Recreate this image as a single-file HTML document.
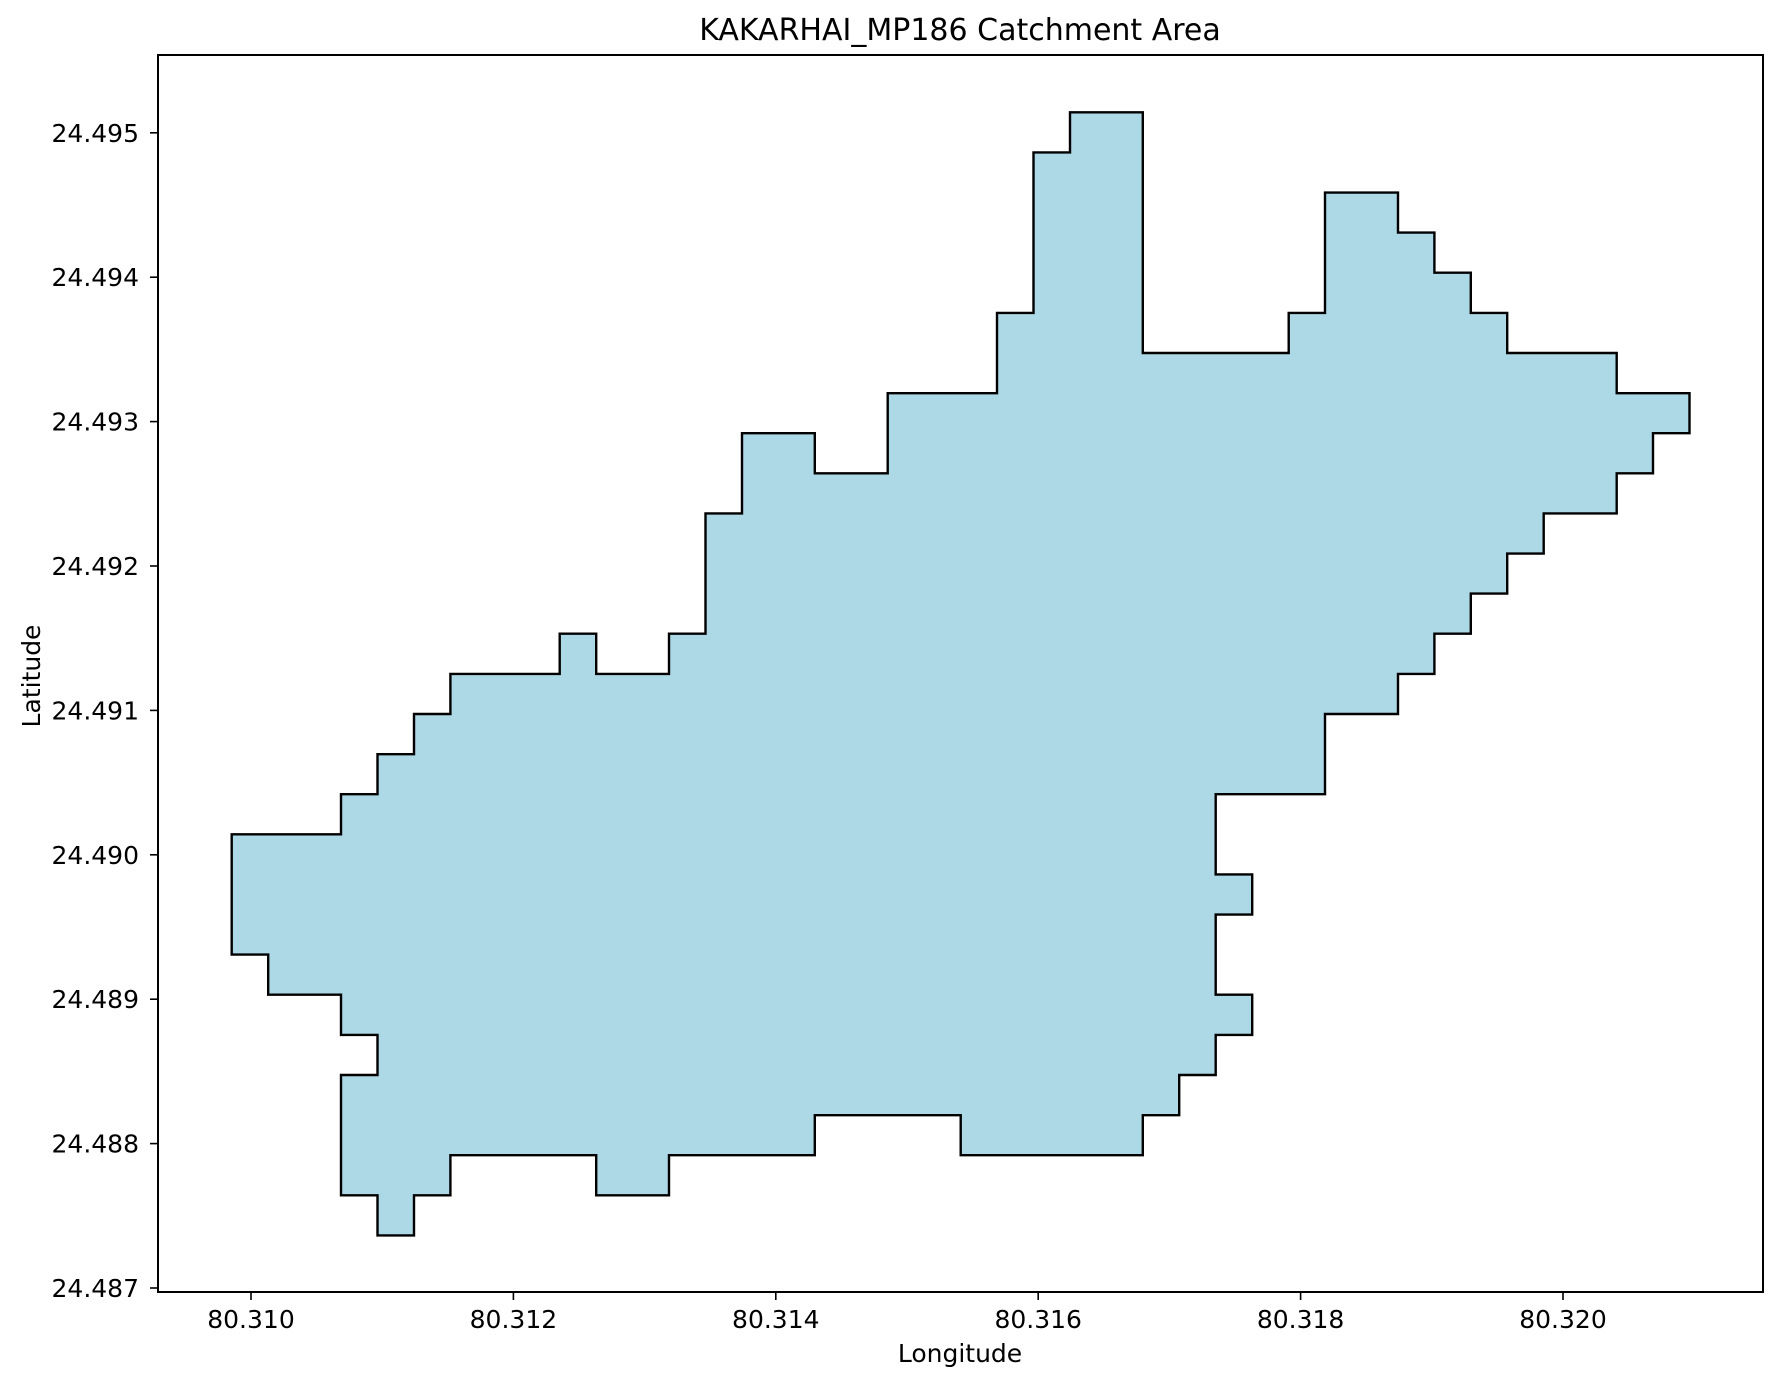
<!DOCTYPE html>
<html><head><meta charset="utf-8"><style>
body{margin:0;background:#fff;}
svg{display:block;font-family:"DejaVu Sans","Liberation Sans",sans-serif;}
</style></head><body>
<svg id="chart" width="1781" height="1385" viewBox="0 0 1781 1385">
<text x="960" y="40" font-size="30" text-anchor="middle">KAKARHAI_MP186 Catchment Area</text>
<g id="plot"></g>
<rect x="158" y="55" width="1605" height="1237" fill="none" stroke="#000" stroke-width="2"/>
<text x="960" y="1362" font-size="25" text-anchor="middle">Longitude</text>
<text x="0" y="0" font-size="25" text-anchor="middle" transform="translate(40,676) rotate(-90)">Latitude</text>
</svg>
<script>
const xTicks=[80.310,80.312,80.314,80.316,80.318,80.320];
const xTickLabels=["80.310","80.312","80.314","80.316","80.318","80.320"];
const yTicks=[24.487,24.488,24.489,24.490,24.491,24.492,24.493,24.494,24.495];
const yTickLabels=["24.487","24.488","24.489","24.490","24.491","24.492","24.493","24.494","24.495"];
const lons=[80.309853,80.310686,80.310686,80.310964,80.310964,80.311242,80.311242,80.311520,80.311520,80.312353,80.312353,80.312631,80.312631,80.313186,80.313186,80.313464,80.313464,80.313742,80.313742,80.314297,80.314297,80.314853,80.314853,80.315686,80.315686,80.315964,80.315964,80.316242,80.316242,80.316797,80.316797,80.317909,80.317909,80.318186,80.318186,80.318742,80.318742,80.319020,80.319020,80.319297,80.319297,80.319575,80.319575,80.320409,80.320409,80.320964,80.320964,80.320686,80.320686,80.320409,80.320409,80.319853,80.319853,80.319575,80.319575,80.319297,80.319297,80.319020,80.319020,80.318742,80.318742,80.318186,80.318186,80.317353,80.317353,80.317631,80.317631,80.317353,80.317353,80.317631,80.317631,80.317353,80.317353,80.317075,80.317075,80.316797,80.316797,80.315409,80.315409,80.314297,80.314297,80.313186,80.313186,80.312631,80.312631,80.311520,80.311520,80.311242,80.311242,80.310964,80.310964,80.310686,80.310686,80.310964,80.310964,80.310686,80.310686,80.310131,80.310131,80.309853];
const lats=[24.490142,24.490142,24.490420,24.490420,24.490697,24.490697,24.490975,24.490975,24.491253,24.491253,24.491531,24.491531,24.491253,24.491253,24.491531,24.491531,24.492364,24.492364,24.492920,24.492920,24.492642,24.492642,24.493197,24.493197,24.493753,24.493753,24.494864,24.494864,24.495142,24.495142,24.493475,24.493475,24.493753,24.493753,24.494586,24.494586,24.494309,24.494309,24.494031,24.494031,24.493753,24.493753,24.493475,24.493475,24.493197,24.493197,24.492920,24.492920,24.492642,24.492642,24.492364,24.492364,24.492086,24.492086,24.491809,24.491809,24.491531,24.491531,24.491253,24.491253,24.490975,24.490975,24.490420,24.490420,24.489864,24.489864,24.489586,24.489586,24.489031,24.489031,24.488753,24.488753,24.488475,24.488475,24.488197,24.488197,24.487920,24.487920,24.488197,24.488197,24.487920,24.487920,24.487642,24.487642,24.487920,24.487920,24.487642,24.487642,24.487364,24.487364,24.487642,24.487642,24.488475,24.488475,24.488753,24.488753,24.489031,24.489031,24.489309,24.489309];
const NS='http://www.w3.org/2000/svg';
const xS=v=>251+(v-80.310)/0.001*131.2;
const yS=v=>1288-(v-24.487)/0.001*144.4;
const g=document.getElementById('plot');
const poly=document.createElementNS(NS,'polygon');
poly.setAttribute('points',lons.map((v,i)=>xS(v).toFixed(1)+','+yS(lats[i]).toFixed(1)).join(' '));
poly.setAttribute('fill','#add8e6');
poly.setAttribute('stroke','#000');
poly.setAttribute('stroke-width','2.4');


g.appendChild(poly);
xTicks.forEach((t,i)=>{
  const x=xS(t);
  const l=document.createElementNS(NS,'line');
  l.setAttribute('x1',x);l.setAttribute('x2',x);l.setAttribute('y1',1292);l.setAttribute('y2',1300);
  l.setAttribute('stroke','#000');l.setAttribute('stroke-width','1.6');
  
  
  g.appendChild(l);
  const tx=document.createElementNS(NS,'text');
  tx.setAttribute('x',x);tx.setAttribute('y',1328);tx.setAttribute('font-size','25');tx.setAttribute('text-anchor','middle');
  tx.textContent=xTickLabels[i];
  
  
  g.appendChild(tx);
});
yTicks.forEach((t,i)=>{
  const y=yS(t);
  const l=document.createElementNS(NS,'line');
  l.setAttribute('x1',150);l.setAttribute('x2',158);l.setAttribute('y1',y);l.setAttribute('y2',y);
  l.setAttribute('stroke','#000');l.setAttribute('stroke-width','1.6');
  
  
  g.appendChild(l);
  const tx=document.createElementNS(NS,'text');
  tx.setAttribute('x',139);tx.setAttribute('y',y+9);tx.setAttribute('font-size','25');tx.setAttribute('text-anchor','end');
  tx.textContent=yTickLabels[i];
  
  
  g.appendChild(tx);
});
</script>
</body></html>
